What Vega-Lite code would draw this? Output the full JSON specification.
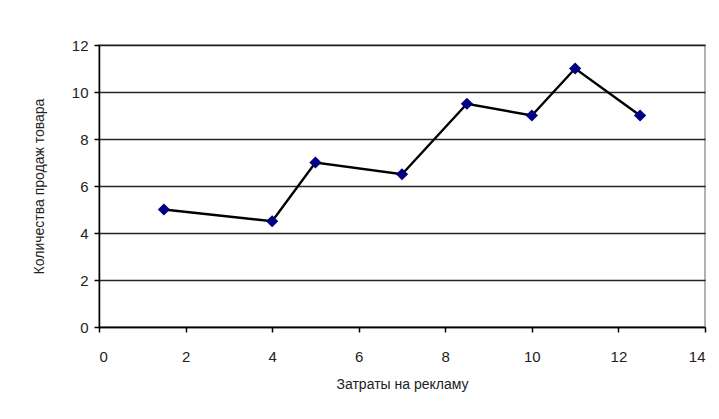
{
  "$schema": "https://vega.github.io/schema/vega-lite/v6.json",
  "autosize": "none",
  "width": 606,
  "height": 282,
  "padding": {"left": 99, "top": 45, "right": 14, "bottom": 92},
  "background": "white",
  "config": {
    "font": "Liberation Sans",
    "view": {"stroke": "#999999", "strokeWidth": 1.5},
    "axis": {
      "labelFont": "Liberation Sans",
      "titleFont": "Liberation Sans",
      "labelColor": "#222",
      "titleColor": "#222",
      "labelFontSize": 15,
      "titleFontSize": 14,
      "titleFontWeight": "normal",
      "domainColor": "#000",
      "tickColor": "#000",
      "tickSize": 5,
      "domainWidth": 1.5,
      "tickWidth": 1.5
    }
  },
  "data": {
    "values": [
      {"x": 1.5, "y": 5},
      {"x": 4, "y": 4.5},
      {"x": 5, "y": 7},
      {"x": 7, "y": 6.5},
      {"x": 8.5, "y": 9.5},
      {"x": 10, "y": 9},
      {"x": 11, "y": 11},
      {"x": 12.5, "y": 9}
    ]
  },
  "encoding": {
    "x": {
      "field": "x",
      "type": "quantitative",
      "scale": {"domain": [0, 14], "nice": false, "zero": false},
      "axis": {
        "title": "Затраты на рекламу",
        "values": [0, 2, 4, 6, 8, 10, 12, 14],
        "grid": false,
        "labelPadding": 17,
        "titlePadding": 13
      }
    },
    "y": {
      "field": "y",
      "type": "quantitative",
      "scale": {"domain": [0, 12], "nice": false},
      "axis": {
        "title": "Количества продаж товара",
        "values": [0, 2, 4, 6, 8, 10, 12],
        "grid": true,
        "gridColor": "#000",
        "gridOpacity": 0.85,
        "gridWidth": 1.5,
        "labelPadding": 6,
        "titlePadding": 25
      }
    }
  },
  "layer": [
    {"mark": {"type": "line", "color": "#000", "strokeWidth": 2.4}},
    {"mark": {"type": "point", "shape": "diamond", "filled": true, "color": "#000080", "opacity": 1, "size": 150}}
  ]
}
